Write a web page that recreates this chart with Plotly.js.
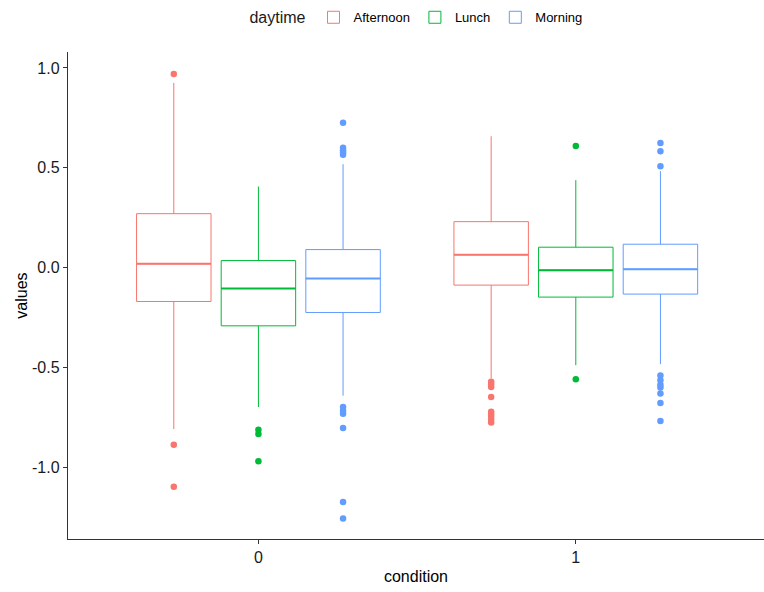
<!DOCTYPE html>
<html>
<head>
<meta charset="utf-8">
<script src="https://cdn.plot.ly/plotly-3.0.1.min.js"></script>
<style>
  html, body { margin: 0; padding: 0; background: #ffffff; }
  #chart { width: 764px; height: 592px; }
</style>
</head>
<body>
<div id="chart"></div>
<script>
// Conditions on the x axis
const conditions = ['0', '1'];

// Daytime groups and their colours
const daytimes = ['Afternoon', 'Lunch', 'Morning'];
const colors = ['#F8766D', '#00BA38', '#619CFF'];

// Box statistics per daytime, one value per condition
const afternoonQ1 = [-0.170, -0.088];
const afternoonMedian = [0.019, 0.064];
const afternoonQ3 = [0.270, 0.230];
const afternoonLower = [-0.809, -0.555];
const afternoonUpper = [0.925, 0.658];
const afternoonOutliers = [
  [0.970, -0.888, -1.098],
  [-0.572, -0.585, -0.598, -0.649, -0.722, -0.735, -0.748, -0.762, -0.776]
];

const lunchQ1 = [-0.292, -0.148];
const lunchMedian = [-0.105, -0.013];
const lunchQ3 = [0.035, 0.102];
const lunchLower = [-0.699, -0.489];
const lunchUpper = [0.406, 0.438];
const lunchOutliers = [
  [-0.813, -0.834, -0.971],
  [0.609, -0.559]
];

const morningQ1 = [-0.225, -0.133];
const morningMedian = [-0.055, -0.008];
const morningQ3 = [0.090, 0.117];
const morningLower = [-0.642, -0.484];
const morningUpper = [0.518, 0.483];
const morningOutliers = [
  [0.726, 0.600, 0.588, 0.576, 0.565, -0.699, -0.718, -0.733, -0.804, -1.175, -1.257],
  [0.624, 0.583, 0.508, -0.541, -0.564, -0.587, -0.601, -0.631, -0.678, -0.769]
];

// Y axis ticks
const yTickVals = [-1.0, -0.5, 0.0, 0.5, 1.0];
const yTickText = ['-1.0', '-0.5', '0.0', '0.5', '1.0'];

const stats = [
  { q1: afternoonQ1, median: afternoonMedian, q3: afternoonQ3, lower: afternoonLower, upper: afternoonUpper, out: afternoonOutliers },
  { q1: lunchQ1, median: lunchMedian, q3: lunchQ3, lower: lunchLower, upper: lunchUpper, out: lunchOutliers },
  { q1: morningQ1, median: morningMedian, q3: morningQ3, lower: morningLower, upper: morningUpper, out: morningOutliers }
];

const traces = [];
daytimes.forEach((name, i) => {
  const s = stats[i];
  // Main box: quartiles, whiskers and outlying points
  traces.push({
    type: 'box',
    name: name,
    x: conditions,
    y: s.out,
    q1: s.q1,
    median: s.median,
    q3: s.q3,
    lowerfence: s.lower,
    upperfence: s.upper,
    boxpoints: 'outliers',
    jitter: 0,
    pointpos: 0,
    whiskerwidth: 0,
    offsetgroup: name,
    line: { color: colors[i], width: 1 },
    fillcolor: 'rgba(255,255,255,0)',
    marker: { color: colors[i], size: 6.5, line: { width: 0 } },
    hoverinfo: 'skip'
  });
  // Thicker median stroke drawn over the box
  traces.push({
    type: 'box',
    name: name,
    x: conditions,
    q1: s.median,
    median: s.median,
    q3: s.median,
    lowerfence: s.median,
    upperfence: s.median,
    boxpoints: false,
    whiskerwidth: 0,
    offsetgroup: name,
    showlegend: false,
    line: { color: colors[i], width: 2 },
    fillcolor: 'rgba(255,255,255,0)',
    hoverinfo: 'skip'
  });
});

const layout = {
  width: 764,
  height: 592,
  margin: { l: 68, r: 0, t: 52, b: 53, autoexpand: false },
  paper_bgcolor: '#ffffff',
  plot_bgcolor: '#ffffff',
  font: { family: '"Liberation Sans", Arial, sans-serif', color: '#000000' },
  boxmode: 'group',
  boxgap: 0.2,
  boxgroupgap: 0.12,
  showlegend: true,
  legend: {
    orientation: 'h',
    x: 0.502,
    xanchor: 'center',
    y: 1.102,
    yanchor: 'top',
    font: { size: 13, color: '#000000' },
    title: { text: 'daytime', font: { size: 16, color: '#1a1a1a' }, side: 'left' },
    itemclick: false,
    traceorder: 'normal'
  },
  xaxis: {
    type: 'category',
    range: [-0.6, 1.593],
    automargin: false,
    showgrid: false,
    zeroline: false,
    showline: true,
    linecolor: '#333333',
    linewidth: 1.2,
    ticks: 'outside',
    ticklen: 4,
    tickcolor: '#333333',
    tickfont: { size: 16, color: '#1a1a1a' },
    title: { text: 'condition', font: { size: 16, color: '#000000' }, standoff: 5 }
  },
  yaxis: {
    range: [-1.36, 1.08],
    automargin: false,
    showgrid: false,
    zeroline: false,
    showline: true,
    linecolor: '#333333',
    linewidth: 1.2,
    ticks: 'outside',
    ticklen: 4,
    tickcolor: '#333333',
    tickvals: yTickVals,
    ticktext: yTickText,
    tickfont: { size: 16, color: '#1a1a1a' },
    title: { text: 'values', font: { size: 16, color: '#000000' }, standoff: 0 }
  }
};

Plotly.newPlot('chart', traces, layout, { displayModeBar: false, staticPlot: true });
</script>
</body>
</html>
